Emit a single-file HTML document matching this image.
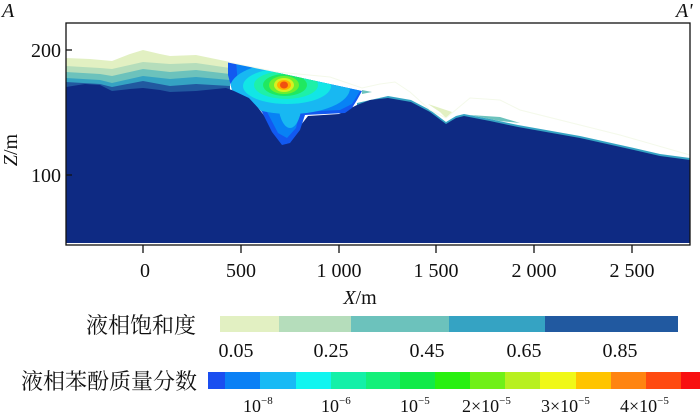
<!DOCTYPE html>
<html><head><meta charset="utf-8"><style>
body{margin:0;background:#fff;width:700px;height:414px;overflow:hidden}
svg{display:block}
text{font-family:"Liberation Serif","Noto Serif CJK SC",serif;fill:#111}
.cjk{font-family:"Liberation Serif","Noto Serif CJK SC","Noto Sans CJK SC",serif}
</style></head><body>
<svg width="700" height="414" viewBox="0 0 700 414">
<defs>
<clipPath id="pl"><polygon points="228,62 362,91 357,100 352,108 345,113 305,115 300,130 290,143 282,145 272,132 262,112 249,98 232,90 228,75"/></clipPath>
<clipPath id="box"><rect x="66" y="23" width="624" height="220"/></clipPath>
</defs>
<g clip-path="url(#box)">
<polygon points="66,58 90,59 112,61 130,54 143,50 160,54 170,56 196,55 230,62 230,100 66,100" fill="#e2f0c2"/>
<polygon points="66,66 100,68 112,69 143,62 170,64 196,63 230,68 230,100 66,100" fill="#b5ddbb"/>
<polygon points="66,72 100,74 112,76 143,69 170,72 196,70 230,74 230,100 66,100" fill="#6cc2bc"/>
<polygon points="66,78 100,80 112,83 143,76 170,79 196,77 230,80 230,100 66,100" fill="#35a3c3"/>
<polygon points="66,82 100,84 112,87 143,81 170,86 196,84 230,86 230,100 66,100" fill="#2159a0"/>
<polygon points="362,90 372,92 362,94" fill="#6cc2bc"/>
<polygon points="428,104 440,112 446,118 452,112 440,108" fill="#e2f0c2"/>
<polygon points="470,115 500,117 520,123 500,121" fill="#6cc2bc"/>
<polygon points="357,103 388,96 411,100 430,110 446,122 456,116 464,114 490,119 518,125 580,136 634,148 660,154 690,158 690,170 357,170" fill="#35a3c3"/>
<polygon points="66,87 85,84 100,85 112,91 130,89 143,88 160,90 170,92 196,91 226,88 249,96 286,144 308,116 339,114 357,105 370,100 388,98 411,102 430,112 446,124 456,118 464,116 490,121 518,127 580,138 634,150 660,156 690,160 690,243 66,243" fill="#0e2a83"/>
<g clip-path="url(#pl)">
<rect x="220" y="55" width="150" height="95" fill="#1259f0"/>
<polygon points="236,60 362,88 352,104 340,110 300,112 296,128 287,138 278,133 266,110 252,95 238,86" fill="#0882f5"/>
<ellipse cx="290" cy="88" rx="60" ry="26" fill="#18b8f2"/>
<ellipse cx="290" cy="100" rx="12" ry="28" fill="#18b8f2"/>
<ellipse cx="287" cy="86" rx="44" ry="18" fill="#12e6e6"/>
<ellipse cx="286" cy="85" rx="32" ry="14" fill="#1ef0a8"/>
<ellipse cx="285" cy="85" rx="22" ry="11" fill="#20e860"/>
<ellipse cx="284" cy="85" rx="15" ry="9" fill="#6cf030"/>
<ellipse cx="284" cy="85" rx="10" ry="7" fill="#d8f020"/>
<ellipse cx="284" cy="85" rx="7" ry="5" fill="#ffb000"/>
<ellipse cx="284" cy="85" rx="4" ry="3.5" fill="#f05010"/>
</g>
<polyline points="228,62 277,72 330,77 362,88 380,84 395,82 410,92 430,110 446,118 470,98 500,100 520,110 560,120 620,135 690,155" fill="none" stroke="#f4f9ea" stroke-width="1"/>
</g>
<rect x="66" y="23" width="624" height="222" fill="none" stroke="#111" stroke-width="1.3"/>
<line x1="66" y1="50" x2="72" y2="50" stroke="#111" stroke-width="1.3"/>
<line x1="66" y1="175" x2="72" y2="175" stroke="#111" stroke-width="1.3"/>
<g stroke="#111" stroke-width="1.3">
<line x1="143" y1="245" x2="143" y2="253"/><line x1="241" y1="245" x2="241" y2="253"/>
<line x1="339" y1="245" x2="339" y2="253"/><line x1="436" y1="245" x2="436" y2="253"/>
<line x1="534" y1="245" x2="534" y2="253"/><line x1="632" y1="245" x2="632" y2="253"/>
</g>
<text x="61" y="57" font-size="20" text-anchor="end">200</text>
<text x="61" y="182" font-size="20" text-anchor="end">100</text>
<text x="17" y="150" font-size="20" transform="rotate(-90 17 150)" text-anchor="middle"><tspan font-style="italic">Z</tspan>/m</text>
<text x="2" y="17" font-size="20" font-style="italic">A</text>
<text x="676" y="17" font-size="20" font-style="italic">A'</text>
<g font-size="20" text-anchor="middle">
<text x="145" y="277">0</text><text x="241" y="277">500</text><text x="339" y="277">1 000</text>
<text x="436" y="277">1 500</text><text x="534" y="277">2 000</text><text x="632" y="277">2 500</text>
<text x="360" y="304"><tspan font-style="italic">X</tspan>/m</text>
</g>
<text class="cjk" x="196" y="333" font-size="22" text-anchor="end">液相饱和度</text>
<rect x="220" y="316" width="59" height="16" fill="#e2f0c2"/>
<rect x="279" y="316" width="72" height="16" fill="#b5ddbb"/>
<rect x="351" y="316" width="98" height="16" fill="#6cc2bc"/>
<rect x="449" y="316" width="96" height="16" fill="#35a3c3"/>
<rect x="545" y="316" width="133" height="16" fill="#2159a0"/>
<g font-size="20" text-anchor="middle">
<text x="236" y="357">0.05</text><text x="331" y="357">0.25</text><text x="427" y="357">0.45</text>
<text x="524" y="357">0.65</text><text x="620" y="357">0.85</text>
</g>
<text class="cjk" x="197" y="389" font-size="22" text-anchor="end">液相苯酚质量分数</text>
<rect x="208" y="372" width="17" height="17" fill="#1a4ef0"/>
<rect x="225" y="372" width="35" height="17" fill="#0a80f5"/>
<rect x="260" y="372" width="36" height="17" fill="#18baf5"/>
<rect x="296" y="372" width="35" height="17" fill="#10f5f0"/>
<rect x="331" y="372" width="35" height="17" fill="#14f0a8"/>
<rect x="366" y="372" width="34" height="17" fill="#14f07a"/>
<rect x="400" y="372" width="35" height="17" fill="#10ea48"/>
<rect x="435" y="372" width="35" height="17" fill="#28f010"/>
<rect x="470" y="372" width="35" height="17" fill="#70f018"/>
<rect x="505" y="372" width="35" height="17" fill="#b8f020"/>
<rect x="540" y="372" width="36" height="17" fill="#f0f818"/>
<rect x="576" y="372" width="35" height="17" fill="#ffc400"/>
<rect x="611" y="372" width="35" height="17" fill="#ff8410"/>
<rect x="646" y="372" width="35" height="17" fill="#ff4a10"/>
<rect x="681" y="372" width="19" height="17" fill="#f81010"/>
<g font-size="18">
<text x="243" y="412">10<tspan font-size="11" dy="-8">−8</tspan></text>
<text x="321" y="412">10<tspan font-size="11" dy="-8">−6</tspan></text>
<text x="400" y="412">10<tspan font-size="11" dy="-8">−5</tspan></text>
<text x="462" y="412">2×10<tspan font-size="11" dy="-8">−5</tspan></text>
<text x="541" y="412">3×10<tspan font-size="11" dy="-8">−5</tspan></text>
<text x="620" y="412">4×10<tspan font-size="11" dy="-8">−5</tspan></text>
</g>
</svg>
</body></html>
